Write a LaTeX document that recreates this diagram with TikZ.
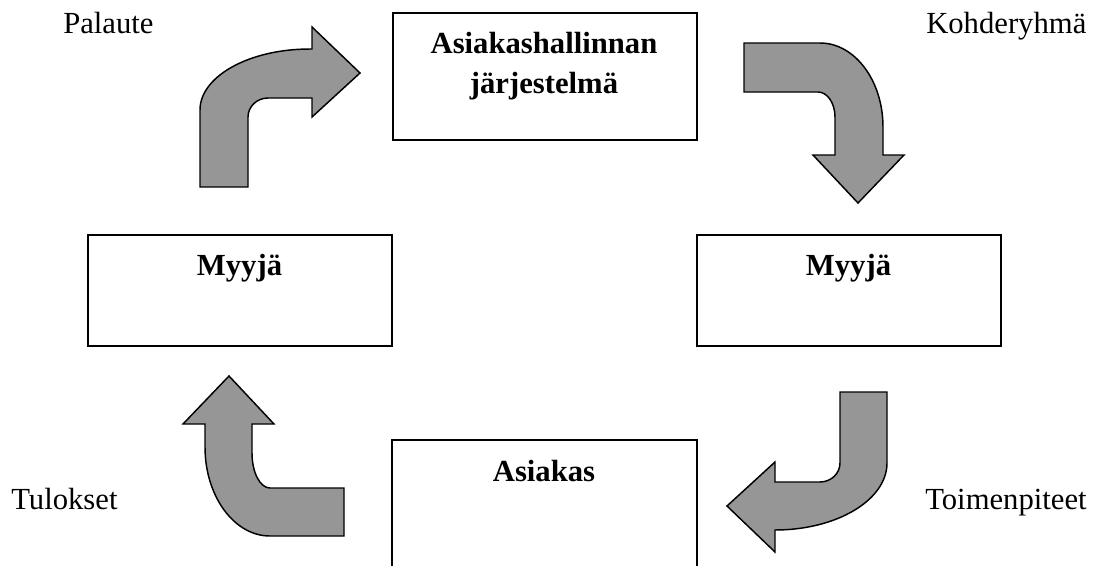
\documentclass[tikz,border=0pt]{standalone}
\usepackage{fontspec}
\setmainfont{Liberation Serif}
\definecolor{arrowgray}{RGB}{150,150,150}
\begin{document}
\begin{tikzpicture}[x=0.75pt,y=-0.75pt,
  boxline/.style={draw=black,line width=1.5pt},
  box/.style={boxline,minimum width=228pt,minimum height=95.25pt,inner sep=0pt,anchor=north west},
  openbox/.style={draw=none,minimum width=228pt,minimum height=93.75pt,inner sep=0pt,anchor=north west},
  blockarrow/.style={fill=arrowgray,draw=black,line width=1.1pt,line join=miter},
  title/.style={font=\fontsize{23}{30}\selectfont\bfseries,anchor=base,inner sep=0pt},
  lbl/.style={font=\fontsize{23}{30}\selectfont,anchor=base west,inner sep=0pt}]
\useasboundingbox (0,0) rectangle (1104,565);

% boxes
\node[box] (crm) at (392,12) {};
\node[box,minimum height=83.25pt] (myyjaL) at (87,234) {};
\node[box,minimum height=83.25pt] (myyjaR) at (696,234) {};
\node[openbox] (asiakas) at (392,440) {};
\draw[boxline] (asiakas.south west) |- (asiakas.north east) -- (asiakas.south east);

% box titles
\node[title] (crmt1) at (544,53) {Asiakashallinnan};
\node[title] (crmt2) at (544,93) {järjestelmä};
\node[title] (myyjaLt) at (239.5,275) {Myyjä};
\node[title] (myyjaRt) at (848.5,275) {Myyjä};
\node[title] (asiakast) at (544,481) {Asiakas};

% labels
\node[lbl] (palaute) at (63,33) {Palaute};
\node[lbl] (kohde) at (926,33) {Kohderyhmä};
\node[lbl] (tulokset) at (11,509) {Tulokset};
\node[lbl] (toimen) at (925,509) {Toimenpiteet};

% arrow 1: up then right (Palaute)
\draw[blockarrow] (200,187) -- (200,110)
  .. controls (200,76.3) and (249.3,49) .. (310,49)
  -- (312,49) -- (312,27) -- (360,73) -- (312,117) -- (312,98) -- (268,98)
  .. controls (257,98) and (248,106.5) .. (248,117) -- (248,187) -- cycle;

% arrow 2: right then down (Kohderyhmä)
\draw[blockarrow] (744,43) -- (820,43)
  .. controls (854.8,43) and (883,80.6) .. (883,127)
  -- (883,155) -- (904,155) -- (858,203) -- (813,155) -- (835,155) -- (835,117)
  .. controls (835,103.2) and (827.4,92) .. (818,92) -- (744,92) -- cycle;

% arrow 3: down then left (Toimenpiteet)
\draw[blockarrow] (840,392) -- (887,392) -- (887,463)
  .. controls (887,500) and (836.8,530) .. (775,530)
  -- (775,552) -- (727,506) -- (775,462) -- (775,482) -- (820,482)
  .. controls (831,482) and (840,473.5) .. (840,463) -- cycle;

% arrow 4: left then up (Tulokset)
\draw[blockarrow] (344,488) -- (344,536) -- (270,536)
  .. controls (234,536) and (205,496) .. (205,447)
  -- (205,424) -- (183,424) -- (229,376) -- (274,424) -- (252,424) -- (252,453)
  .. controls (252,472.3) and (260,488) .. (270,488) -- cycle;
\end{tikzpicture}
\end{document}
